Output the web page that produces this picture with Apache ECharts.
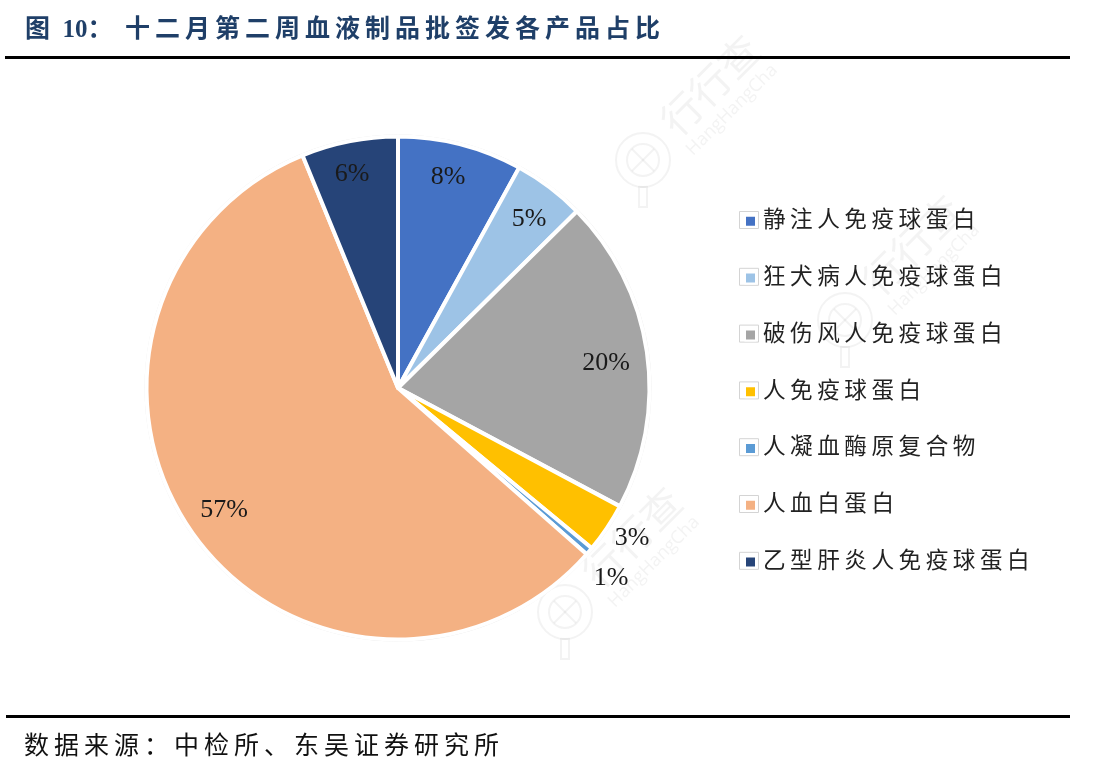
<!DOCTYPE html>
<html>
<head>
<meta charset="utf-8">
<style>
html, body { margin: 0; padding: 0; background: #fff; }
#main { width: 1117px; height: 772px; }
</style>
<script src="https://cdn.jsdelivr.net/npm/echarts@6/dist/echarts.min.js"></script>
</head>
<body>
<div id="main"></div>
<script>
var titleHead = '图  10\uff1a  ';
var titleText = '十二月第二周血液制品批签发各产品占比';
var sourceText = '数据来源\uff1a中检所、东吴证券研究所';
var categories = ['静注人免疫球蛋白', '狂犬病人免疫球蛋白', '破伤风人免疫球蛋白', '人免疫球蛋白', '人凝血酶原复合物', '人血白蛋白', '乙型肝炎人免疫球蛋白'];
var values = [8.0, 4.6, 20.2, 3.2, 0.5, 57.3, 6.2];
var colors = ['#4472c4', '#9dc3e6', '#a5a5a5', '#ffc000', '#5b9bd5', '#f4b183', '#264478'];

var fontStack = '"Liberation Serif", "Noto Sans CJK SC", serif';
// 标签位置
var labelPos = [[448, 177], [529, 219], [606, 363], [632, 538], [611, 578], [224, 510], [352, 174]];
// 水印位置(圆标中心)
var markPos = [[643, 160], [380, 418], [845, 320], [565, 612]];
var markColor = 'rgba(120,120,120,0.09)';

function spaced(s) {
    return s.split('').join('\u2009');
}

function watermark(x, y, c) {
    return {
        type: 'group', x: x, y: y, z: 50, silent: true,
        children: [
            { type: 'circle', shape: { cx: 0, cy: 0, r: 27 }, style: { fill: 'none', stroke: c, lineWidth: 2 } },
            { type: 'circle', shape: { cx: 0, cy: 0, r: 16 }, style: { fill: 'none', stroke: c, lineWidth: 2 } },
            { type: 'line', shape: { x1: -11, y1: -11, x2: 11, y2: 11 }, style: { stroke: c, lineWidth: 2 } },
            { type: 'line', shape: { x1: -11, y1: 11, x2: 11, y2: -11 }, style: { stroke: c, lineWidth: 2 } },
            { type: 'rect', shape: { x: -4, y: 27, width: 8, height: 20 }, style: { fill: 'none', stroke: c, lineWidth: 2 } },
            {
                type: 'text', x: 67, y: -75, rotation: Math.PI / 4,
                style: { text: '行行查', fill: c, font: '40px "Noto Sans CJK SC"', align: 'center', verticalAlign: 'middle' }
            },
            {
                type: 'text', x: 89, y: -50, rotation: Math.PI / 4,
                style: { text: 'HangHangCha', fill: c, font: '18px "Open Sans"', align: 'center', verticalAlign: 'middle' }
            }
        ]
    };
}

var chart = echarts.init(document.getElementById('main'));

var frames = categories.map(function (c, i) {
    return {
        type: 'rect', z: 1,
        shape: { x: 739.5, y: 211.5 + i * 56.8, width: 19, height: 17 },
        style: { fill: '#fff', stroke: '#d4d4d4', lineWidth: 1 }
    };
});

var marks = markPos.map(function (m) {
    return watermark(m[0], m[1], markColor);
});

var option = {
    backgroundColor: '#fff',
    animation: false,
    title: [{
        text: titleHead + spaced(titleText),
        left: 25, top: 18,
        padding: 0,
        textStyle: { fontFamily: fontStack, fontSize: 25, fontWeight: 'bold', color: '#1f3f68' }
    }, {
        text: spaced(sourceText),
        left: 24, top: 735,
        padding: 0,
        textStyle: { fontFamily: fontStack, fontSize: 25, fontWeight: 'normal', color: '#111' }
    }],
    legend: {
        orient: 'vertical',
        left: 744, top: 210,
        padding: 0,
        data: categories,
        icon: 'rect',
        itemWidth: 11, itemHeight: 11,
        itemGap: 34.2,
        selectedMode: false,
        formatter: spaced,
        textStyle: { fontFamily: fontStack, fontSize: 22.6, color: '#222', padding: [1, 0, 0, 2] }
    },
    graphic: [
        { type: 'rect', z: 60, shape: { x: 5, y: 56, width: 1065, height: 3 }, style: { fill: '#000' } },
        { type: 'rect', z: 60, shape: { x: 6, y: 715, width: 1064, height: 3 }, style: { fill: '#000' } }
    ].concat(frames, marks),
    series: [{
        type: 'pie',
        silent: true,
        center: [398, 388],
        radius: [252.5, 253.5],
        z: 1,
        label: { show: false },
        labelLine: { show: false },
        itemStyle: { color: '#e8e8e8' },
        data: [{ value: 1, name: 'ring' }]
    }, {
        type: 'pie',
        silent: true,
        center: [398, 388],
        radius: [0, 251.5],
        startAngle: 90,
        clockwise: true,
        percentPrecision: 0,
        z: 2,
        itemStyle: { borderColor: '#fff', borderWidth: 4 },
        label: {
            show: true,
            position: 'inside',
            formatter: '{d}%',
            fontFamily: fontStack,
            fontSize: 26,
            color: '#1a1a1a'
        },
        labelLine: { show: false },
        labelLayout: function (params) {
            var p = labelPos[params.dataIndex];
            return { x: p[0], y: p[1], align: 'center', verticalAlign: 'middle' };
        },
        data: categories.map(function (c, i) {
            return { name: c, value: values[i], itemStyle: { color: colors[i] } };
        })
    }]
};
chart.setOption(option);
</script>
</body>
</html>
